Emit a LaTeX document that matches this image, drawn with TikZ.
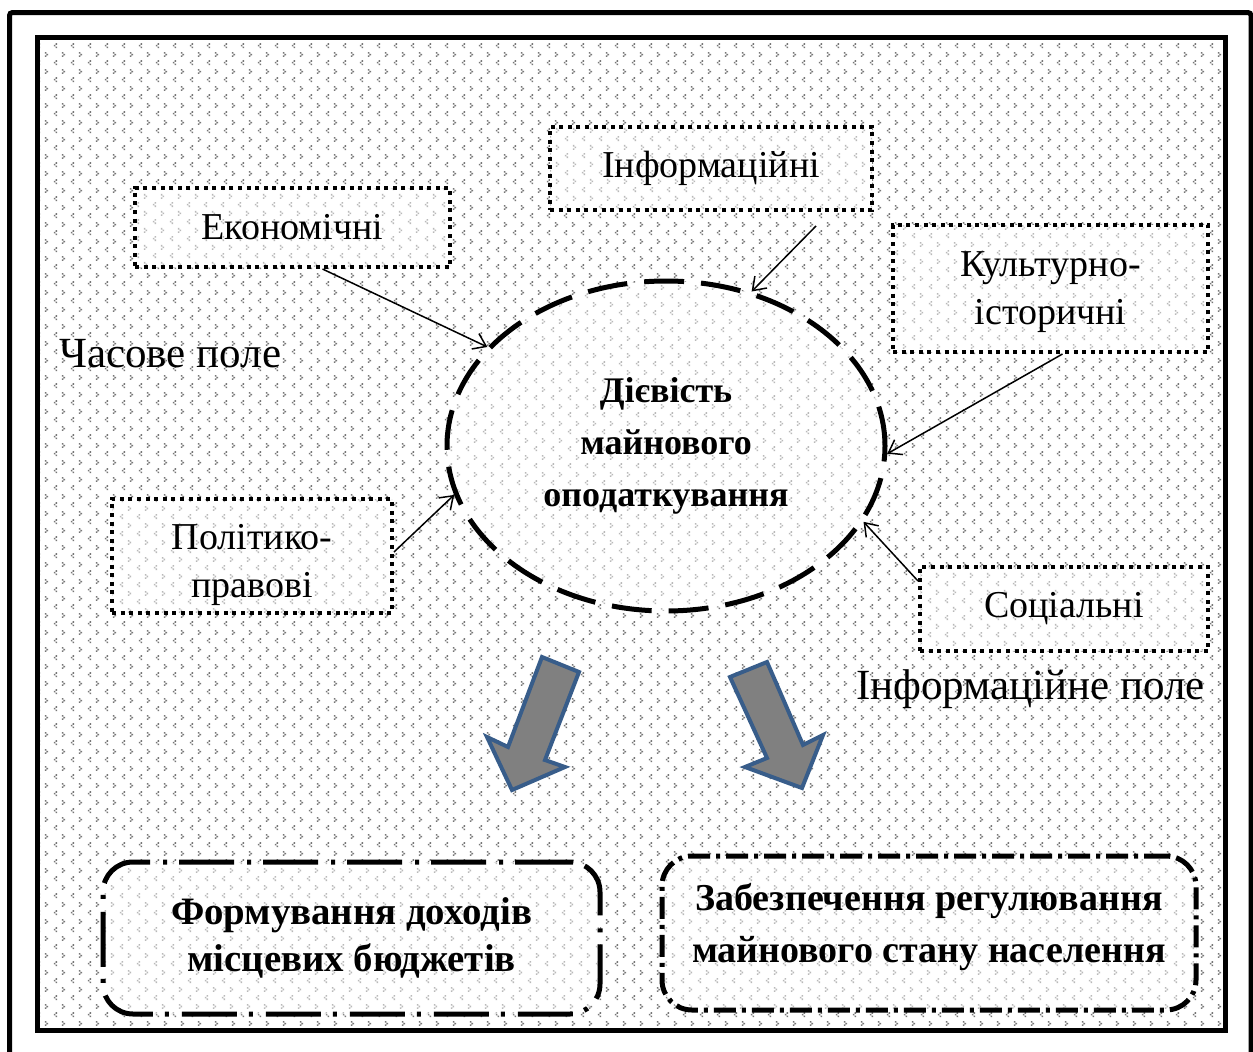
\documentclass[tikz,border=0pt]{standalone}
\usepackage{fontspec}
\setmainfont{Liberation Serif}
\usetikzlibrary{patterns,shapes.geometric,arrows.meta,calc}
\definecolor{patgray}{RGB}{118,118,118}
\definecolor{patlight}{RGB}{185,185,185}
\definecolor{arrowblue}{RGB}{56,93,138}
\definecolor{arrowfill}{RGB}{128,128,128}
\pgfdeclarepatternformonly{divot}{\pgfpointorigin}{\pgfqpoint{16.5pt}{16.5pt}}{\pgfqpoint{16.5pt}{16.5pt}}{%
  \pgfpathrectangle{\pgfqpoint{5.7pt}{2.0pt}}{\pgfqpoint{1.6pt}{1.6pt}}%
  \pgfpathrectangle{\pgfqpoint{4.0pt}{3.7pt}}{\pgfqpoint{1.6pt}{1.6pt}}%
  \pgfpathrectangle{\pgfqpoint{5.7pt}{5.4pt}}{\pgfqpoint{1.6pt}{1.6pt}}%
  \pgfpathrectangle{\pgfqpoint{12.2pt}{10.3pt}}{\pgfqpoint{1.6pt}{1.6pt}}%
  \pgfpathrectangle{\pgfqpoint{13.9pt}{12.0pt}}{\pgfqpoint{1.6pt}{1.6pt}}%
  \pgfpathrectangle{\pgfqpoint{12.2pt}{13.7pt}}{\pgfqpoint{1.6pt}{1.6pt}}%
  \pgfusepath{fill}}
\tikzset{
  lightpat/.style={preaction={fill=white}, pattern=divot, pattern color=patlight},
  boxfont/.style={font=\fontsize{38}{48}\selectfont, align=center, inner sep=0pt},
  dotbox/.style={draw, lightpat, line width=4pt, dash pattern=on 4pt off 4.6pt,
    inner sep=0pt, boxfont},
  centre/.style={ellipse, draw, lightpat, line width=5pt, dash pattern=on 40pt off 17pt,
    minimum width=438pt, minimum height=330pt, inner sep=0pt, align=center,
    font=\bfseries\fontsize{36}{52}\selectfont},
  resultbox/.style={draw, lightpat, line width=5pt, rounded corners=30pt,
    inner sep=0pt, align=center},
  fieldtext/.style={font=\fontsize{43}{50}\selectfont, inner sep=0pt},
  conn/.style={line width=1.5pt, -{Straight Barb[length=12pt,width=17pt,line width=1.5pt]}},
  bigarrow/.style={draw=arrowblue, fill=arrowfill, line width=4pt, line join=miter},
  frame/.style={draw=black, line width=5pt}
}
\begin{document}
\begin{tikzpicture}[x=1pt,y=-1pt]
\useasboundingbox (0,0) rectangle (1253,1052);
\clip (0,0) rectangle (1253,1052);
\fill[white] (0,0) rectangle (1253,1052);
% frames
\draw[frame, rounded corners=3pt] (9.5,12.5) rectangle (1251,1070);
\fill[pattern=divot, pattern color=patgray] (37.5,37.5) rectangle (1225.5,1030.5);
\draw[frame] (37.5,37.5) rectangle (1225.5,1030.5);
% central ellipse
\node[centre] (ell) at (666,446) {Дієвість\\майнового\\оподаткування};
% factor boxes
\node[dotbox, minimum width=315pt, minimum height=79pt] (eco) at (292.5,227.5) {Економічні};
\node[dotbox, minimum width=322pt, minimum height=83pt] (info) at (711,168.5) {Інформаційні};
\node[dotbox, minimum width=315pt, minimum height=127pt] (kult) at (1050.5,288.5) {};
\node[boxfont] (kulttext) at (1050.5,292.5) {Культурно-\\історичні};
\node[dotbox, minimum width=280pt, minimum height=114pt] (polit) at (252,556) {};
\node[boxfont] (polittext) at (252,565) {Політико-\\правові};
\node[dotbox, minimum width=288pt, minimum height=84pt] (soc) at (1064,609) {Соціальні};
% field labels
\node[fieldtext, anchor=base west] (timefield) at (59,367) {Часове поле};
\node[fieldtext, anchor=base west] (infofield) at (856,699) {Інформаційне поле};
% connectors
\draw[conn] ([xshift=30pt]eco.south) -- (ell.151);
\draw[conn] ([xshift=105pt,yshift=-14pt]info.south) -- (ell.61);
\draw[conn] ([xshift=12pt]kult.south) -- (ell.-2);
\draw[conn] ([yshift=4pt]polit.east) -- (ell.193);
\draw[conn] ([yshift=28pt]soc.west) -- (ell.-21.5);
% block arrows
\draw[bigarrow] (542,657) -- (579,672) -- (545,760) -- (565,767) -- (512,790) -- (487,737) -- (508,747) -- cycle;
\draw[bigarrow] (730,677) -- (767,662) -- (803,745) -- (823,735) -- (802,788) -- (745,767) -- (767,758) -- cycle;
% result boxes
\node[resultbox, dash pattern=on 55pt off 12pt on 4pt off 13pt, minimum width=497pt, minimum height=152pt, font=\bfseries\fontsize{38.8}{47}\selectfont] (budget) at (351.5,938) {Формування доходів\\місцевих бюджетів};
\node[resultbox, dash pattern=on 22pt off 6pt on 4pt off 6pt, minimum width=534pt, minimum height=154pt] (regul) at (929,933) {};
\node[align=center, inner sep=0pt, font=\bfseries\fontsize{38}{52}\selectfont] (regultext) at (929,926.5) {Забезпечення регулювання\\майнового стану населення};
\end{tikzpicture}
\end{document}
